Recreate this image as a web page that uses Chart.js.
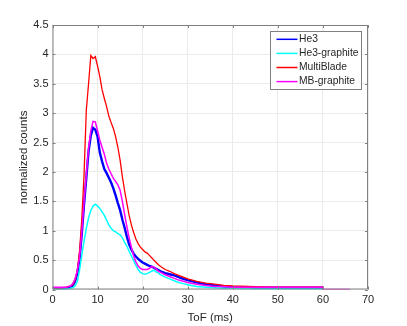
<!DOCTYPE html>
<html>
<head>
<meta charset="utf-8">
<script src="https://cdn.jsdelivr.net/npm/chart.js@4/dist/chart.umd.min.js"></script>
<style>
  html, body { margin: 0; padding: 0; background: #fff; }
  canvas { display: block; }
</style>
</head>
<body>
<canvas id="chart" width="407" height="326"></canvas>
<script>
// time of flight (ms)
const tof = [0, 1, 2, 3, 3.5, 4, 4.5, 5, 5.5, 6, 6.5, 7, 7.5, 8, 8.5, 9, 9.5, 10, 10.5, 11, 11.5, 12, 12.5, 13, 13.5, 14, 14.5, 15, 15.5, 16, 16.5, 17, 17.5, 18, 18.5, 19, 19.5, 20, 20.5, 21, 21.5, 22, 22.5, 23, 23.5, 24, 25, 26, 27, 28, 29, 30, 32, 34, 36, 38, 40, 45, 50, 55, 60];

const he3 = [0.02, 0.02, 0.02, 0.02, 0.03, 0.04, 0.07, 0.14, 0.27, 0.52, 0.95, 1.45, 1.9, 2.35, 2.62, 2.75, 2.72, 2.6, 2.33, 2.18, 2.05, 1.98, 1.9, 1.82, 1.72, 1.6, 1.47, 1.35, 1.19, 1.05, 0.9, 0.77, 0.68, 0.61, 0.56, 0.52, 0.49, 0.46, 0.44, 0.42, 0.4, 0.39, 0.37, 0.35, 0.33, 0.31, 0.28, 0.26, 0.24, 0.21, 0.18, 0.16, 0.12, 0.09, 0.07, 0.05, 0.04, 0.03, 0.03, 0.03, 0.03];

const he3Graphite = [0.01, 0.01, 0.01, 0.01, 0.01, 0.02, 0.03, 0.06, 0.13, 0.33, 0.58, 0.82, 1.04, 1.22, 1.34, 1.42, 1.45, 1.42, 1.38, 1.32, 1.26, 1.18, 1.1, 1.04, 1.0, 0.98, 0.95, 0.93, 0.88, 0.8, 0.74, 0.65, 0.57, 0.49, 0.41, 0.34, 0.29, 0.27, 0.26, 0.27, 0.29, 0.31, 0.33, 0.3, 0.28, 0.25, 0.21, 0.18, 0.15, 0.12, 0.1, 0.08, 0.05, 0.04, 0.03, 0.02, 0.02, 0.01, 0.01, 0.01, 0.01];

const multiBlade = [0.03, 0.03, 0.03, 0.04, 0.05, 0.06, 0.08, 0.16, 0.32, 0.65, 1.2, 1.95, 3.05, 3.5, 3.98, 3.93, 3.96, 3.8, 3.62, 3.4, 3.25, 3.11, 2.95, 2.84, 2.74, 2.6, 2.42, 2.2, 1.92, 1.68, 1.47, 1.26, 1.1, 0.97, 0.86, 0.78, 0.72, 0.68, 0.64, 0.62, 0.58, 0.54, 0.5, 0.46, 0.42, 0.39, 0.34, 0.31, 0.27, 0.24, 0.21, 0.18, 0.14, 0.11, 0.09, 0.07, 0.06, 0.05, 0.04, 0.04, 0.04];

const mbGraphite = [0.04, 0.04, 0.04, 0.04, 0.05, 0.06, 0.1, 0.18, 0.32, 0.55, 0.98, 1.5, 1.95, 2.4, 2.7, 2.86, 2.85, 2.7, 2.54, 2.42, 2.3, 2.15, 2.05, 1.97, 1.89, 1.84, 1.78, 1.69, 1.5, 1.28, 1.07, 0.88, 0.72, 0.57, 0.47, 0.4, 0.36, 0.34, 0.34, 0.34, 0.36, 0.39, 0.38, 0.35, 0.31, 0.29, 0.25, 0.22, 0.19, 0.16, 0.14, 0.12, 0.09, 0.07, 0.05, 0.05, 0.04, 0.04, 0.04, 0.04, 0.04];
// MB-graphite continues at zero after 60 ms
const mbTailTof = [60, 66];
const mbTail = [0, 0];

const xTicks = [0, 10, 20, 30, 40, 50, 60, 70];
const yTicks = [0, 0.5, 1, 1.5, 2, 2.5, 3, 3.5, 4, 4.5];

const textColor = '#262626';
const gridColor = '#ebebeb';
const boxColor = '#808080';
const fontFamily = '"Liberation Sans", Arial, sans-serif';

function pts(xs, ys) {
    let out = [];
    for (let i = 0; i < xs.length; i++) {
        out.push({ x: xs[i], y: ys[i] });
    }
    return out;
}

// matlab style box with inward ticks
const boxPlugin = {
    id: 'box',
    afterDatasetsDraw(chart) {
        const ctx = chart.ctx;
        const a = chart.chartArea;
        const xs = chart.scales.x, ys = chart.scales.y;
        const len = 3;
        ctx.save();
        ctx.strokeStyle = boxColor;
        ctx.lineWidth = 1;
        ctx.beginPath();
        ctx.rect(a.left + 0.5, a.top + 0.5, a.right - a.left - 1, a.bottom - a.top - 1);
        for (const t of xTicks) {
            const px = Math.round(xs.getPixelForValue(t)) + 0.5;
            ctx.moveTo(px, a.bottom); ctx.lineTo(px, a.bottom - len);
            ctx.moveTo(px, a.top); ctx.lineTo(px, a.top + len);
        }
        for (const t of yTicks) {
            const py = Math.round(ys.getPixelForValue(t)) + 0.5;
            ctx.moveTo(a.left, py); ctx.lineTo(a.left + len, py);
            ctx.moveTo(a.right, py); ctx.lineTo(a.right - len, py);
        }
        ctx.stroke();
        ctx.restore();
    }
};

// legend box inside the axes, top right
const legendPlugin = {
    id: 'innerLegend',
    afterDraw(chart) {
        const ctx = chart.ctx;
        const a = chart.chartArea;
        const sets = chart.data.datasets;
        ctx.save();
        ctx.font = '10.3px ' + fontFamily;
        let maxW = 0;
        for (const ds of sets) maxW = Math.max(maxW, ctx.measureText(ds.label).width);
        const w = maxW + 31;
        const rowH = 14.1;
        const h = rowH * sets.length + 2;
        const right = a.right - 7;
        const top = a.top + 6;
        const left = right - w;
        ctx.fillStyle = '#fff';
        ctx.fillRect(left, top, w, h);
        ctx.strokeStyle = boxColor;
        ctx.lineWidth = 1;
        ctx.strokeRect(Math.round(left) + 0.5, Math.round(top) + 0.5, Math.round(w), Math.round(h));
        ctx.textBaseline = 'middle';
        for (let i = 0; i < sets.length; i++) {
            const y = top + 8.3 + i * rowH;
            ctx.strokeStyle = sets[i].borderColor;
            ctx.lineWidth = 1.5;
            ctx.beginPath();
            ctx.moveTo(left + 6, y);
            ctx.lineTo(left + 27, y);
            ctx.stroke();
            ctx.fillStyle = textColor;
            ctx.fillText(sets[i].label, left + 28.5, y);
        }
        ctx.restore();
    }
};

const ctx = document.getElementById('chart').getContext('2d');
const chart = new Chart(ctx, {
    type: 'line',
    data: {
        datasets: [
            { label: 'He3', data: pts(tof, he3), borderColor: '#0000ff', borderWidth: 2.4, order: 3 },
            { label: 'He3-graphite', data: pts(tof, he3Graphite), borderColor: '#00ffff', borderWidth: 1.5, order: 2 },
            { label: 'MultiBlade', data: pts(tof, multiBlade), borderColor: '#ff0000', borderWidth: 1.3, order: 1 },
            { label: 'MB-graphite', data: pts(tof.concat(mbTailTof), mbGraphite.concat(mbTail)), borderColor: '#ff00ff', borderWidth: 1.5, order: 0 }
        ]
    },
    options: {
        responsive: false,
        animation: false,
        elements: { point: { radius: 0 }, line: { tension: 0, fill: false } },
        layout: { padding: { left: 0, right: 39, top: 25, bottom: 0 } },
        plugins: { legend: { display: false }, tooltip: { enabled: false } },
        scales: {
            x: {
                type: 'linear', min: 0, max: 70,
                afterBuildTicks: (s) => { s.ticks = xTicks.map(v => ({ value: v })); },
                afterFit: (s) => { s.height = 36.5; },
                ticks: { color: textColor, font: { family: fontFamily, size: 11 }, padding: 4, maxRotation: 0 },
                grid: { color: gridColor, drawTicks: false },
                border: { display: false },
                title: { display: true, text: 'ToF (ms)', color: textColor, font: { family: fontFamily, size: 11.5 }, padding: { top: 0, bottom: 1.2 } }
            },
            y: {
                type: 'linear', min: 0, max: 4.5,
                afterBuildTicks: (s) => { s.ticks = yTicks.map(v => ({ value: v })); },
                afterFit: (s) => { s.width = 52.5; },
                ticks: { color: textColor, font: { family: fontFamily, size: 11 }, padding: 4, callback: (v) => String(v) },
                grid: { color: gridColor, drawTicks: false },
                border: { display: false },
                title: { display: true, text: 'normalized counts', color: textColor, font: { family: fontFamily, size: 11.5 }, padding: { top: 17, bottom: 0 } }
            }
        }
    },
    plugins: [boxPlugin, legendPlugin]
});
</script>
</body>
</html>
